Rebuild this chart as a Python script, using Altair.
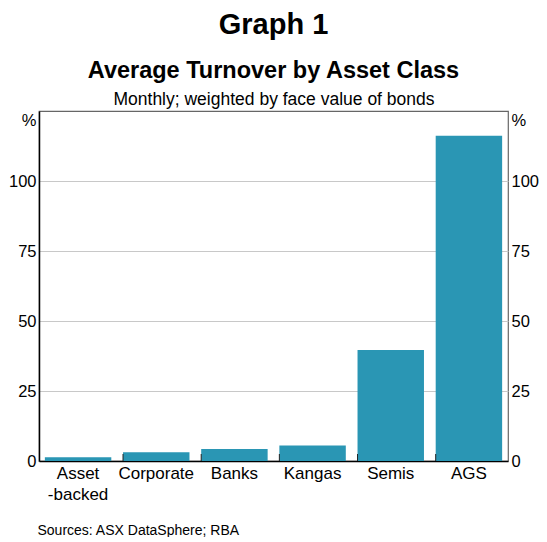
import altair as alt
import pandas as pd

categories = ["Asset-backed", "Corporate", "Banks", "Kangas", "Semis", "AGS"]
turnover = [1.3, 3.1, 4.3, 5.5, 39.6, 116.2]
y_ticks = [0, 25, 50, 75, 100]

FONT = "Arial, Liberation Sans, sans-serif"
BAR = "#2a96b4"

df = pd.DataFrame({"cat": categories, "val": turnover})
sep = pd.DataFrame({"cat": categories[1:], "lo": [0] * 5, "hi": [2.5] * 5})

xscale = alt.Scale(domain=categories, paddingInner=0.15, paddingOuter=0.075)
yscale = alt.Scale(domain=[0, 125], nice=False)

bars = alt.Chart(df).mark_bar(color=BAR).encode(
    x=alt.X("cat:N", scale=xscale, sort=categories,
            axis=alt.Axis(orient="bottom", title="Sources: ASX DataSphere; RBA",
                          titleX=-2, titleY=73, titleAlign="left", titleAnchor="start",
                          titleBaseline="alphabetic", titleFontSize=14, titleFontWeight="normal",
                          labelAngle=0, labelFontSize=17, labelPadding=4, labelLineHeight=21,
                          labelExpr="datum.label == 'Asset-backed' ? ['Asset', '-backed'] : datum.label",
                          ticks=False, domainColor="black", domainWidth=1.5, labelColor="black",
                          titleColor="black")),
    y=alt.Y("val:Q", scale=yscale,
            axis=alt.Axis(orient="left", values=y_ticks, title="%", titleAngle=0,
                          titleX=-3, titleY=9, titleAlign="right", titleBaseline="middle",
                          titleFontSize=16.5, titleFontWeight="normal", labelFontSize=16.5,
                          labelPadding=3, ticks=False, grid=True, gridColor="#c8c8c8",
                          domainColor="black", domainWidth=1.5, labelColor="black",
                          titleColor="black")),
)

seps = alt.Chart(sep).mark_rule(color="#222222", strokeWidth=1).encode(
    x=alt.X("cat:N", scale=xscale, sort=categories, bandPosition=0,
            axis=alt.Axis(orient="top", title="Monthly; weighted by face value of bonds",
                          labels=False, ticks=False, domain=False, titlePadding=3,
                          titleFontSize=17.5, titleFontWeight="normal", titleColor="black")),
    y=alt.Y("lo:Q", scale=yscale,
            axis=alt.Axis(orient="right", values=y_ticks, title="%", titleAngle=0,
                          titleX=3, titleY=9, titleAlign="left", titleBaseline="middle",
                          titleFontSize=16.5, titleFontWeight="normal", labelFontSize=16.5,
                          labelPadding=3, ticks=False, grid=False, domain=False,
                          labelColor="black", titleColor="black")),
    y2="hi:Q",
)

chart = alt.layer(bars, seps).resolve_axis(x="independent", y="independent").properties(
    width=469, height=350,
    title=alt.TitleParams(text="Graph 1", subtitle="Average Turnover by Asset Class",
                          fontSize=29, fontWeight="bold", subtitleFontSize=23.5,
                          subtitleFontWeight="bold", subtitleColor="black", color="black",
                          subtitlePadding=19, offset=8, anchor="middle", font=FONT,
                          subtitleFont=FONT),
    autosize=alt.AutoSizeParams(type="none"),
    padding={"left": 31, "top": 103, "right": 31, "bottom": 76},
).configure(font=FONT).configure_view(stroke="#666666", strokeWidth=1.2)

chart.save("out.html", embed_options={"renderer": "svg", "actions": False})
